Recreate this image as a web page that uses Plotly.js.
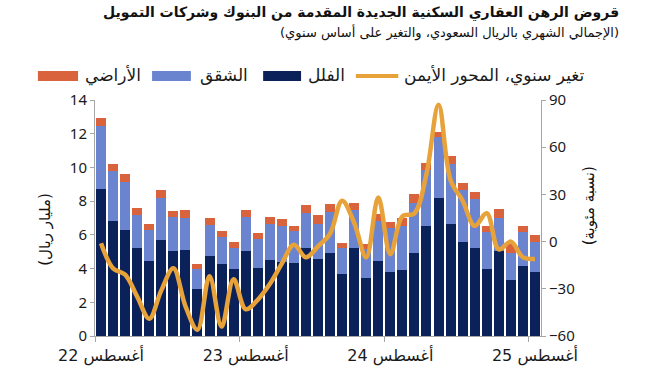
<!DOCTYPE html>
<html>
<head>
<meta charset="utf-8">
<script src="https://cdn.plot.ly/plotly-3.0.1.min.js"></script>
<style>
  html, body { margin: 0; padding: 0; background: #fff; }
  #chart { width: 653px; height: 392px; }
</style>
</head>
<body>
<div id="chart"></div>
<script>
// Months: Aug 2022 .. Aug 2025
const months = [
  "2022-08","2022-09","2022-10","2022-11","2022-12",
  "2023-01","2023-02","2023-03","2023-04","2023-05","2023-06","2023-07","2023-08","2023-09","2023-10","2023-11","2023-12",
  "2024-01","2024-02","2024-03","2024-04","2024-05","2024-06","2024-07","2024-08","2024-09","2024-10","2024-11","2024-12",
  "2025-01","2025-02","2025-03","2025-04","2025-05","2025-06","2025-07","2025-08"
];
const tickMonths = ["2022-08","2023-08","2024-08","2025-08"];
const tickLabels = ["22 أغسطس","23 أغسطس","24 أغسطس","25 أغسطس"];

// SAR billion
const villas = [8.7, 6.8, 6.3, 5.2, 4.45, 5.7, 5.05, 5.1, 2.8, 4.75, 4.3, 3.95, 5.05, 4.05, 4.5, 4.4, 4.35, 5.2, 4.55, 4.95, 3.7, 5.2, 3.45, 4.45, 3.8, 3.9, 4.9, 6.55, 8.2, 6.65, 5.6, 5.25, 4.0, 5.05, 3.3, 4.15, 3.8];
const apartments = [3.75, 3.0, 2.85, 2.0, 1.85, 2.5, 2.0, 1.9, 1.15, 1.85, 1.55, 1.3, 2.0, 1.7, 2.15, 2.15, 1.85, 2.1, 2.1, 2.4, 1.5, 2.3, 1.7, 2.35, 2.6, 2.65, 3.0, 3.3, 3.6, 3.55, 3.05, 2.85, 2.15, 1.95, 1.65, 2.0, 1.8];
const land = [0.5, 0.4, 0.45, 0.4, 0.35, 0.45, 0.35, 0.45, 0.35, 0.4, 0.35, 0.35, 0.4, 0.35, 0.4, 0.4, 0.3, 0.45, 0.5, 0.5, 0.3, 0.4, 0.3, 0.45, 0.35, 0.45, 0.5, 0.4, 0.3, 0.45, 0.45, 0.45, 0.35, 0.55, 0.5, 0.35, 0.4];
// YoY change, %
const yoy = [-1, -17, -21, -35, -49, -31, -17, -41, -56, -22, -54, -24, -43, -37, -27, -14, -2, -10, -3, 5, 26, 12, -10, 28, -8, 16, 18, 43, 87, 39, 26, 10, 18, -5, 0, -10, -11];

const names = {
  villas: "الفلل", apartments: "الشقق", land: "الأراضي", yoy: "تغير سنوي، المحور الأيمن"
};
const colors = { villas: "#0b2159", apartments: "#6a84d0", land: "#d9633d", yoy: "#e8a23a" };

const FONT = "Noto Sans, DejaVu Sans, sans-serif";
const AR = "DejaVu Sans, Noto Sans, sans-serif";

const traces = [
  { type: "bar", x: months, y: villas, name: names.villas, marker: { color: colors.villas }, showlegend: false, hoverinfo: "skip" },
  { type: "bar", x: months, y: apartments, name: names.apartments, marker: { color: colors.apartments }, showlegend: false, hoverinfo: "skip" },
  { type: "bar", x: months, y: land, name: names.land, marker: { color: colors.land }, showlegend: false, hoverinfo: "skip" },
  { type: "scatter", mode: "lines", x: months, y: yoy, yaxis: "y2", name: names.yoy,
    line: { color: colors.yoy, width: 4.5, shape: "spline", smoothing: 1 }, showlegend: false, hoverinfo: "skip" },
  // carrier for boundary tick marks
  { type: "scatter", mode: "none", x: [0], y: [0], xaxis: "x2", showlegend: false, hoverinfo: "skip" }
];

// custom wide-swatch legend (paper coords)
const legendItems = [
  { key: "land", kind: "rect", x0: -0.128, x1: -0.038, tx: -0.026 },
  { key: "apartments", kind: "rect", x0: 0.128, x1: 0.215, tx: 0.232 },
  { key: "villas", kind: "rect", x0: 0.377, x1: 0.462, tx: 0.474 },
  { key: "yoy", kind: "line", x0: 0.585, x1: 0.68, tx: 0.688 }
];
const shapes = [];
const annotations = [];
legendItems.forEach(it => {
  if (it.kind === "rect") {
    shapes.push({ type: "rect", xref: "paper", yref: "paper", x0: it.x0, x1: it.x1, y0: 1.081, y1: 1.123,
      fillcolor: colors[it.key], line: { width: 0 } });
  } else {
    shapes.push({ type: "line", xref: "paper", yref: "paper", x0: it.x0, x1: it.x1, y0: 1.102, y1: 1.102,
      line: { color: colors[it.key], width: 4 } });
  }
  annotations.push({ xref: "paper", yref: "paper", x: it.tx, y: 1.104, xanchor: "left", yanchor: "middle",
    text: names[it.key], showarrow: false, font: { family: AR, size: 17, color: "#1a1a1a" } });
});

annotations.push(
  { xref: "paper", yref: "paper", x: 1.18, y: 1.37, xanchor: "right", yanchor: "middle", showarrow: false,
    text: "<b>قروض الرهن العقاري السكنية الجديدة المقدمة من البنوك وشركات التمويل</b>",
    font: { family: AR, size: 14, color: "#111" } },
  { xref: "paper", yref: "paper", x: 1.18, y: 1.288, xanchor: "right", yanchor: "middle", showarrow: false,
    text: "(الإجمالي الشهري بالريال السعودي، والتغير على أساس سنوي)",
    font: { family: AR, size: 13, color: "#111" } },
  { xref: "paper", yref: "paper", x: -0.112, y: 0.45, xanchor: "center", yanchor: "middle", showarrow: false,
    textangle: -90, text: "(مليار ريال)", font: { family: AR, size: 15, color: "#111" } },
  { xref: "paper", yref: "paper", x: 1.108, y: 0.55, xanchor: "center", yanchor: "middle", showarrow: false,
    textangle: -90, text: "(نسبة مئوية)", font: { family: AR, size: 15, color: "#111" } }
);

const axisGray = "#a6a6a6";
const layout = {
  width: 653, height: 392,
  margin: { l: 95, r: 112, t: 100, b: 56, pad: 0 },
  paper_bgcolor: "#fff", plot_bgcolor: "#fff",
  barmode: "stack", bargap: 0.17,
  showlegend: false,
  font: { family: FONT, size: 15, color: "#222" },
  xaxis: {
    type: "category", range: [-0.5, 36.5], tickvals: tickMonths, ticktext: tickLabels,
    ticks: "", showline: true, linecolor: axisGray, linewidth: 1, showgrid: false, zeroline: false,
    ticklabelstandoff: 5,
    tickfont: { family: AR, size: 16, color: "#1a1a1a" }, automargin: false
  },
  xaxis2: {
    overlaying: "x", anchor: "y", side: "bottom", range: [-0.5, 36.5],
    tickvals: [-0.5, 11.5, 23.5, 35.5], ticks: "outside", ticklen: 5, tickcolor: axisGray,
    showticklabels: false, showline: false, showgrid: false, zeroline: false
  },
  yaxis: {
    range: [0, 14], dtick: 2, tick0: 0, ticks: "outside", ticklen: 4, tickcolor: axisGray,
    showline: true, linecolor: axisGray, showgrid: false, zeroline: false,
    tickfont: { family: FONT, size: 15, color: "#1a1a1a" }, automargin: false
  },
  yaxis2: {
    overlaying: "y", side: "right", range: [-60, 90], dtick: 30, tick0: 0,
    ticks: "outside", ticklen: 4, tickcolor: axisGray,
    showline: true, linecolor: axisGray, showgrid: false, zeroline: false,
    tickfont: { family: FONT, size: 15, color: "#1a1a1a" }, automargin: false
  },
  shapes: shapes,
  annotations: annotations
};

Plotly.newPlot("chart", traces, layout, { staticPlot: true, displayModeBar: false });
</script>
</body>
</html>
